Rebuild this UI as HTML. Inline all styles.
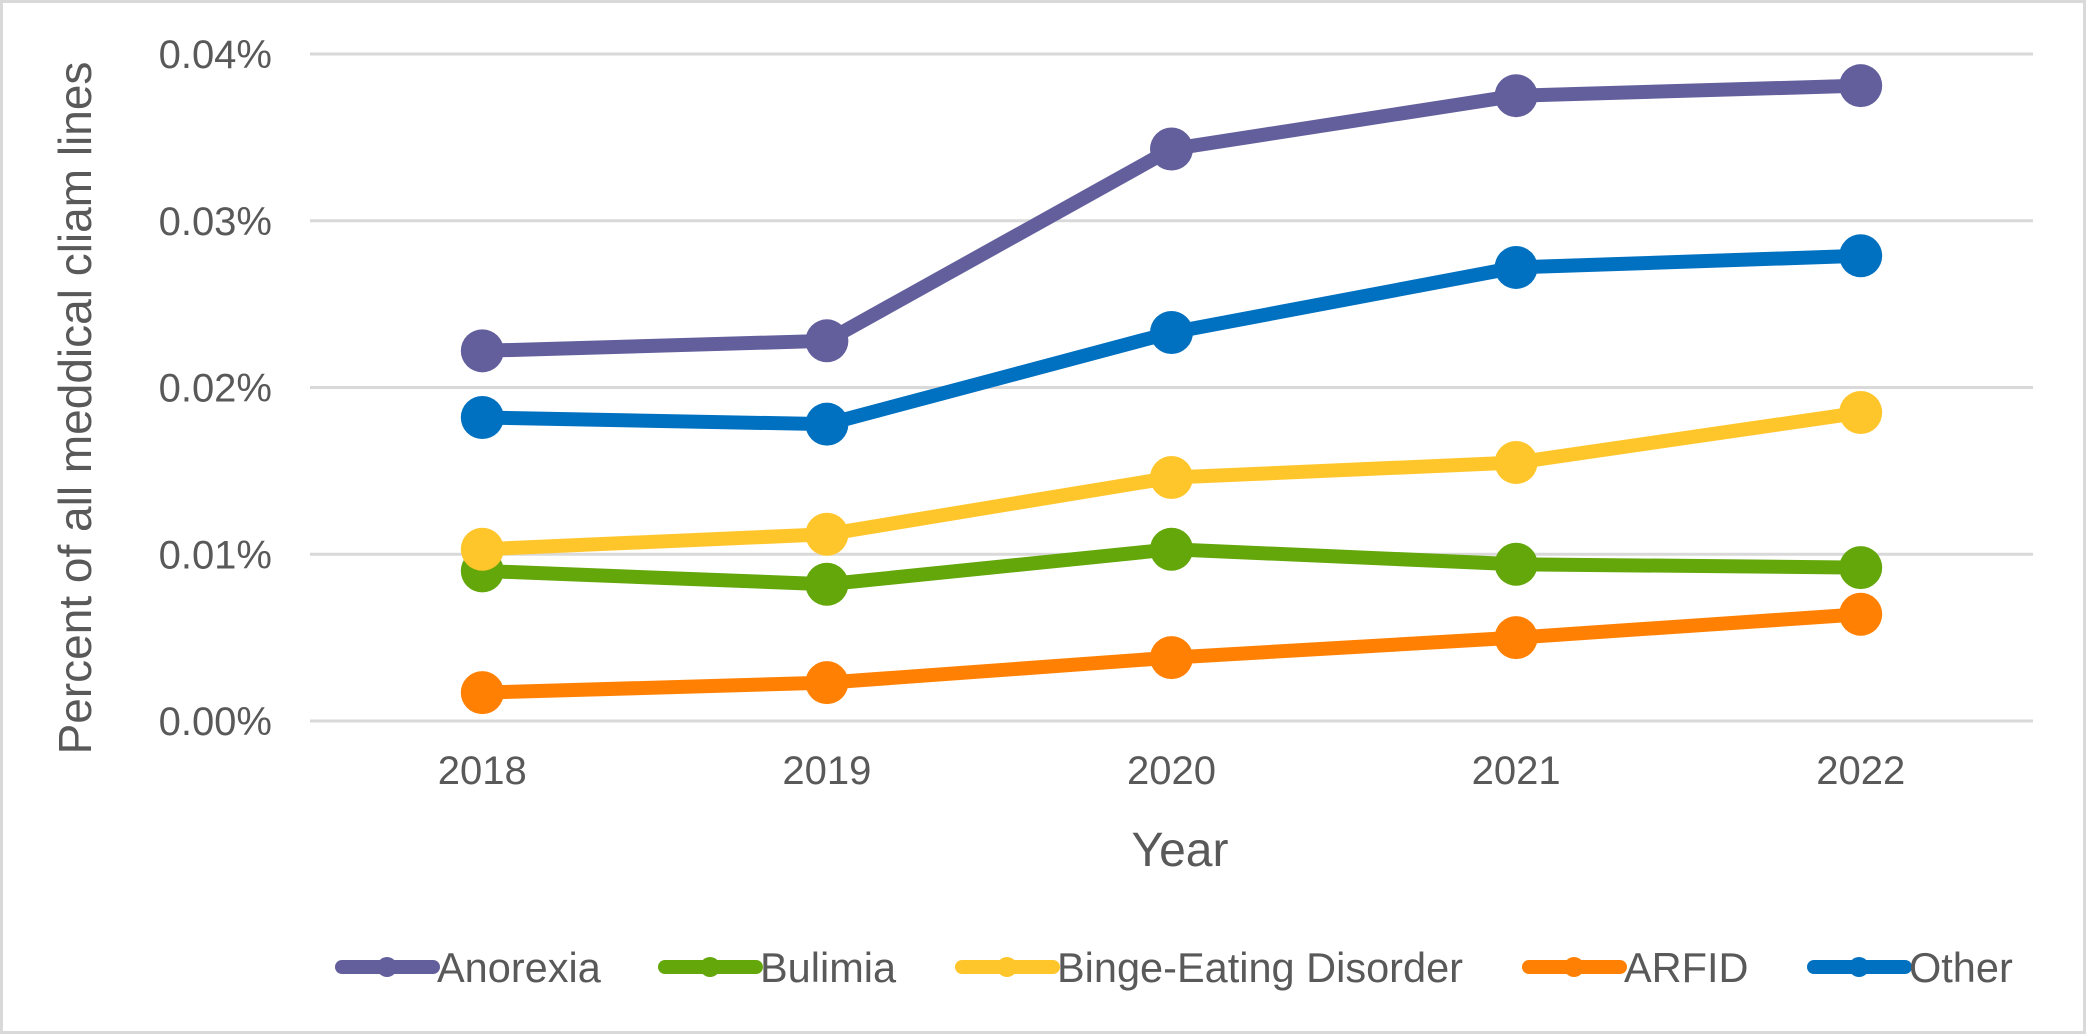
<!DOCTYPE html>
<html><head><meta charset="utf-8"><style>
html,body{margin:0;padding:0;background:#fff;}
svg{display:block;font-family:"Liberation Sans",Arial,sans-serif;}
</style></head><body>
<svg id="chart" width="2086" height="1034" viewBox="0 0 2086 1034" xmlns="http://www.w3.org/2000/svg">
<rect x="1.5" y="1.5" width="2083" height="1031" fill="#fff" stroke="#d9d9d9" stroke-width="3"/>
<g id="grid"></g>
<g id="yticks"></g>
<g id="xticks"></g>
<g id="series"></g>
<text transform="translate(91,408) rotate(-90)" text-anchor="middle" font-size="46" fill="#595959">Percent of all meddical cliam lines</text>
<text x="1180" y="866" text-anchor="middle" font-size="48" fill="#595959">Year</text>
<g id="legend"></g>
</svg>
<script>
const categories = ["2018","2019","2020","2021","2022"];
const yTickValues = [0, 0.01, 0.02, 0.03, 0.04];
const yTickLabels = ["0.00%","0.01%","0.02%","0.03%","0.04%"];
const seriesNames = ["Anorexia","Bulimia","Binge-Eating Disorder","ARFID","Other"];
const anorexia = [0.0222, 0.0228, 0.0343, 0.0375, 0.0381];
const bulimia = [0.0090, 0.0082, 0.0103, 0.0094, 0.0092];
const binge = [0.0103, 0.0112, 0.0146, 0.0155, 0.0185];
const arfid = [0.0017, 0.0023, 0.0038, 0.0050, 0.0064];
const other = [0.0182, 0.0178, 0.0233, 0.0272, 0.0279];
const colors = ["#625f9c","#63a70a","#ffc62c","#ff8002","#0070c0"];

const NS = "http://www.w3.org/2000/svg";
const plotL = 310, plotR = 2033, y0 = 721, y4 = 54;
const xScale = i => plotL + (plotR - plotL) * (i + 0.5) / categories.length;
const yScale = v => y0 - (v / 0.04) * (y0 - y4);
function mk(tag, attrs, parent) {
  const e = document.createElementNS(NS, tag);
  for (const k in attrs) e.setAttribute(k, attrs[k]);
  parent.appendChild(e);
  return e;
}
const grid = document.getElementById('grid');
const yt = document.getElementById('yticks');
yTickValues.forEach((v, i) => {
  const y = yScale(v);
  const l = mk('line', {x1: plotL, x2: plotR, y1: y, y2: y, stroke: '#d9d9d9', 'stroke-width': 3}, grid);
  
  
  const t = mk('text', {x: 272, y: y + 14, 'text-anchor': 'end', 'font-size': 40, fill: '#595959'}, yt);
  t.textContent = yTickLabels[i];
  
  
});
const xt = document.getElementById('xticks');
categories.forEach((c, i) => {
  const t = mk('text', {x: xScale(i), y: 784, 'text-anchor': 'middle', 'font-size': 40, fill: '#595959'}, xt);
  t.textContent = c;
  
  
});
const allSeries = [anorexia, bulimia, binge, arfid, other];
const drawOrder = [3, 1, 2, 4, 0];
const sg = document.getElementById('series');
drawOrder.forEach(si => {
  const vals = allSeries[si];
  const g = mk('g', {}, sg);
  
  
  const pts = vals.map((v, i) => xScale(i) + ',' + yScale(v)).join(' ');
  const pl = mk('polyline', {points: pts, fill: 'none', stroke: colors[si], 'stroke-width': 14, 'stroke-linejoin': 'round', 'stroke-linecap': 'round'}, g);
  
  
  vals.forEach((v, i) => {
    const c = mk('circle', {cx: xScale(i), cy: yScale(v), r: 21.5, fill: colors[si]}, g);
    
    
  });
});
const legendX = [337, 660, 957, 1524, 1809];
const lg = document.getElementById('legend');
seriesNames.forEach((n, i) => {
  const g = mk('g', {}, lg);
  
  
  const x = legendX[i];
  mk('line', {x1: x + 5, x2: x + 96, y1: 967, y2: 967, stroke: colors[i], 'stroke-width': 14, 'stroke-linecap': 'round'}, g);
  mk('circle', {cx: x + 50, cy: 967, r: 10, fill: colors[i]}, g);
  const t = mk('text', {x: x + 100, y: 982, 'font-size': 41.5, fill: '#595959'}, g);
  t.textContent = n;
});
</script>
</body></html>
